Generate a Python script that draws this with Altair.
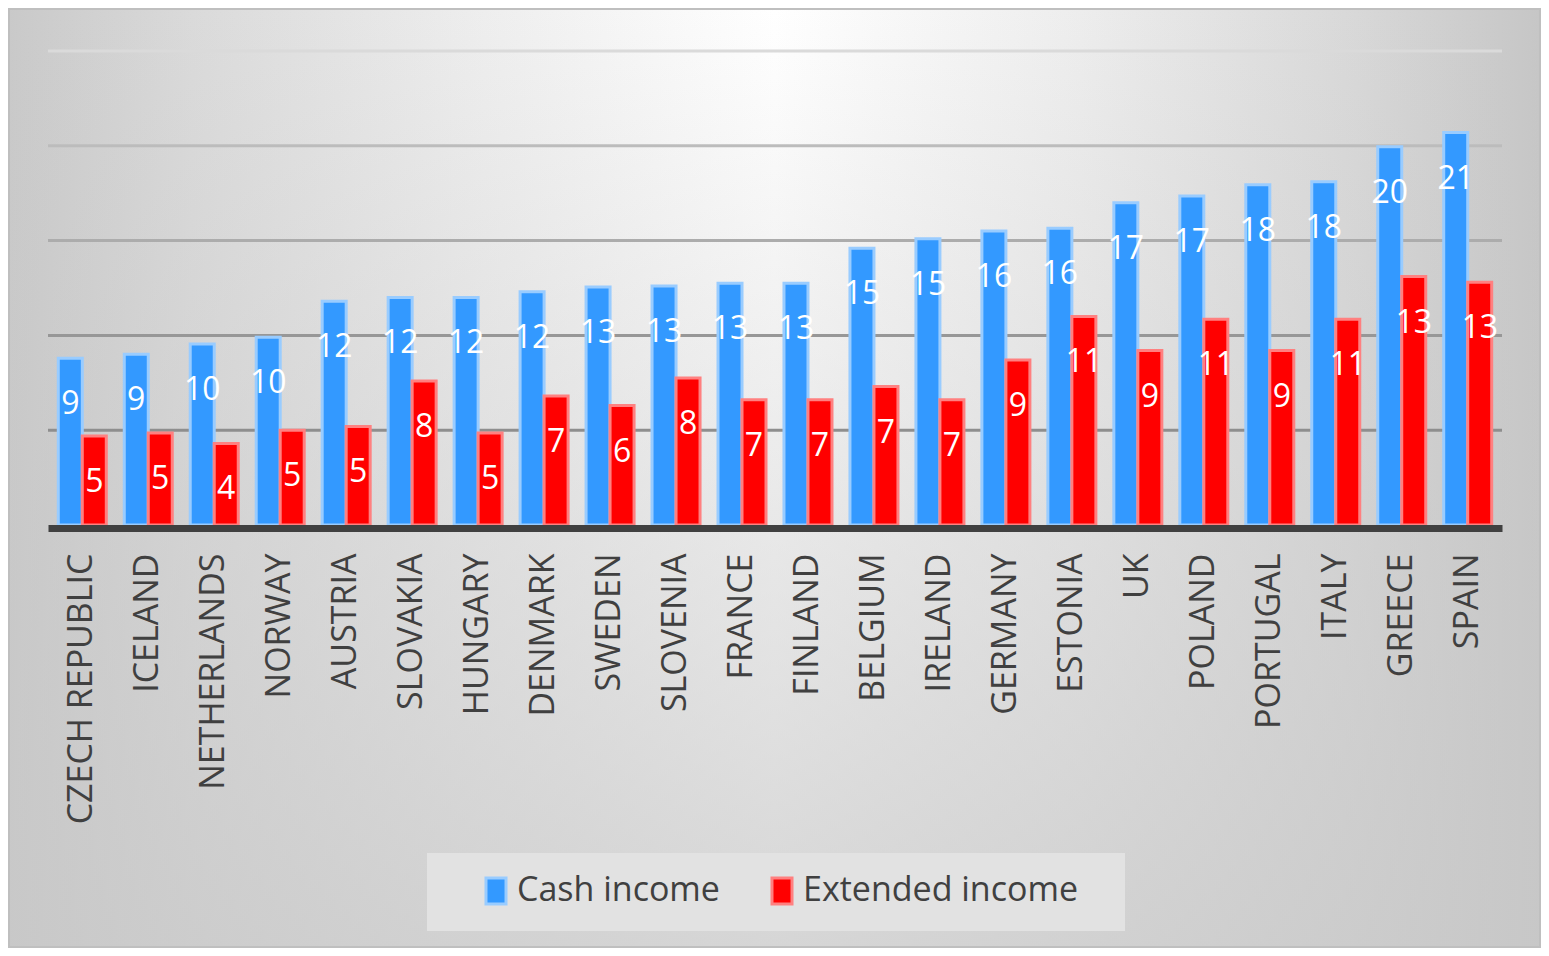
import altair as alt
import pandas as pd

countries = ["CZECH REPUBLIC", "ICELAND", "NETHERLANDS", "NORWAY", "AUSTRIA", "SLOVAKIA",
             "HUNGARY", "DENMARK", "SWEDEN", "SLOVENIA", "FRANCE", "FINLAND", "BELGIUM",
             "IRELAND", "GERMANY", "ESTONIA", "UK", "POLAND", "PORTUGAL", "ITALY", "GREECE", "SPAIN"]
cash_income = [8.8, 9.0, 9.55, 9.9, 11.8, 12.0, 12.0, 12.3, 12.55, 12.6, 12.75, 12.75, 14.6,
               15.1, 15.5, 15.65, 17.0, 17.35, 17.95, 18.1, 19.95, 20.7]
extended_income = [4.7, 4.85, 4.3, 5.0, 5.2, 7.6, 4.85, 6.8, 6.3, 7.75, 6.6, 6.6, 7.3,
                   6.6, 8.7, 11.0, 9.2, 10.85, 9.2, 10.85, 13.1, 12.8]
series_names = ["Cash income", "Extended income"]
gridline_values = [5, 10, 15, 20, 25]

rows = [{"country": c, "series": series_names[0], "value": v} for c, v in zip(countries, cash_income)]
rows += [{"country": c, "series": series_names[1], "value": v} for c, v in zip(countries, extended_income)]
df = pd.DataFrame(rows)
grid_df = pd.DataFrame({"tick": gridline_values})

# layout / style
W, H = 1454, 474
PAD = {"left": 40, "top": 43, "right": 39, "bottom": 423}
FONT = "Open Sans"
TXT = "#404040"
fill_colors = ["#3399ff", "#ff0000"]
stroke_colors = ["#99ccff", "#ff8080"]
grid_colors = ["#8e8e8e", "#979797", "#acacac", "#bcbcbc", "#dadada"]

y_scale = alt.Scale(domain=[0, 25], nice=False, zero=True)

bg_h = {"gradient": "linear", "x1": 0, "y1": 0, "x2": 1, "y2": 0,
        "stops": [{"offset": 0, "color": "#c9c9c9"},
                  {"offset": 0.12, "color": "#dadada"},
                  {"offset": 0.3, "color": "#ededed"},
                  {"offset": 0.5, "color": "#ffffff"},
                  {"offset": 0.7, "color": "#ededed"},
                  {"offset": 0.88, "color": "#d8d8d8"},
                  {"offset": 1, "color": "#c6c6c6"}]}
bg_v = {"gradient": "linear", "x1": 0, "y1": 0, "x2": 0, "y2": 1,
        "stops": [{"offset": 0, "color": "rgba(200,200,200,0)"},
                  {"offset": 1, "color": "rgba(200,200,200,0.75)"}]}

bg_data = alt.Data(values=[{"k": 0}])
bg_enc = dict(x=alt.value(-PAD["left"]), x2=alt.value(W + PAD["right"]),
              y=alt.value(-PAD["top"]), y2=alt.value(H + PAD["bottom"]))
bg1 = alt.Chart(bg_data).mark_rect(fill=bg_h).encode(**bg_enc)
bg2 = alt.Chart(bg_data).mark_rect(fill=bg_v, stroke="#bfbfbf", strokeWidth=4).encode(**bg_enc)

grid = alt.Chart(grid_df).mark_rule(strokeWidth=3).encode(
    y=alt.Y("tick:Q", scale=y_scale, axis=None),
    color=alt.Color("tick:O", scale=alt.Scale(domain=gridline_values, range=grid_colors), legend=None),
)

x_enc = alt.X(
    "country:N", sort=countries,
    scale=alt.Scale(paddingInner=0.2724, paddingOuter=0.156),
    axis=alt.Axis(title=None, labelAngle=-90, labelFont=FONT, labelFontSize=34, labelColor=TXT,
                  labelPadding=25, ticks=False, tickSize=0, domainColor="#404040", domainWidth=7,
                  offset=3, zindex=1, grid=False, labelLimit=500, labelOverlap=False),
)
xoff = alt.XOffset("series:N", sort=series_names)

legend = alt.Legend(
    title=None, orient="none", legendX=379, legendY=802, direction="horizontal",
    fillColor="#e2e2e2", padding=21, labelFont=FONT, labelFontSize=34, labelColor=TXT,
    labelLimit=700,
    symbolType="M-0.77,-1H0.77V1H-0.77Z", symbolSize=676, symbolStrokeWidth=3,
    symbolOffset=31, labelOffset=4, columnPadding=14,
    labelExpr="datum.label == 'Extended income' ? datum.label + '\u2800' : datum.label",
)

bars = alt.Chart(df).mark_bar(strokeWidth=3).encode(
    x=x_enc, xOffset=xoff,
    y=alt.Y("value:Q", scale=y_scale, axis=None),
    fill=alt.Fill("series:N", sort=series_names,
                  scale=alt.Scale(domain=series_names, range=fill_colors), legend=legend),
    stroke=alt.Stroke("series:N", sort=series_names,
                      scale=alt.Scale(domain=series_names, range=stroke_colors), legend=legend),
)

labels = alt.Chart(df).mark_text(color="white", font=FONT, fontSize=32, baseline="middle",
                                 align="center", dy=46).encode(
    x=x_enc, xOffset=xoff,
    y=alt.Y("value:Q", scale=y_scale, axis=None),
    text=alt.Text("value:Q", format=".0f"),
)

chart = alt.layer(bg1, bg2, grid, bars, labels).properties(
    width=W, height=H, padding=PAD, autosize=alt.AutoSizeParams(type="none"),
).configure_view(stroke=None)

chart.save("out.html", embed_options={"renderer": "svg", "actions": False})
